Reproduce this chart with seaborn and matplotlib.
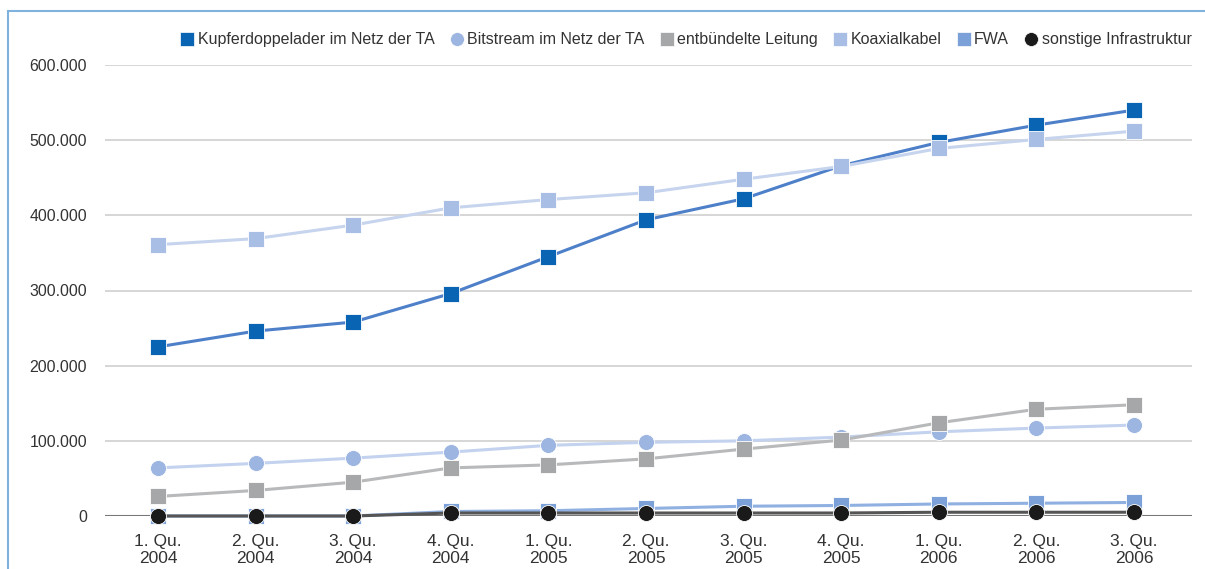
import pandas as pd
import matplotlib.pyplot as plt
import matplotlib.patches as patches
from matplotlib.lines import Line2D
import seaborn as sns

# Quartale
quarters = ["1. Qu.\n2004", "2. Qu.\n2004", "3. Qu.\n2004", "4. Qu.\n2004",
            "1. Qu.\n2005", "2. Qu.\n2005", "3. Qu.\n2005", "4. Qu.\n2005",
            "1. Qu.\n2006", "2. Qu.\n2006", "3. Qu.\n2006"]

kupfer = [225000, 246000, 258000, 296000, 345000, 394000, 422000, 466000, 497000, 520000, 540000]
bitstream = [64000, 70000, 77000, 85000, 94000, 98000, 100000, 105000, 112000, 117000, 121000]
entbuendelt = [26000, 34000, 45000, 64000, 68000, 76000, 89000, 101000, 124000, 142000, 148000]
koaxial = [361000, 369000, 387000, 410000, 421000, 430000, 448000, 465000, 489000, 501000, 512000]
fwa = [0, 0, 0, 6000, 7000, 10000, 13000, 14000, 16000, 17000, 18000]
sonstige = [0, 0, 0, 4000, 4000, 4000, 4000, 4000, 5000, 5000, 5000]

series = [
    ("Kupferdoppelader im Netz der TA", kupfer, "s", "#0a64b4", "#4d80c9"),
    ("Bitstream im Netz der TA", bitstream, "o", "#9db5e1", "#c3d2ee"),
    ("entbündelte Leitung", entbuendelt, "s", "#a6a7a9", "#b8b9bb"),
    ("Koaxialkabel", koaxial, "s", "#a9bee4", "#c6d4ee"),
    ("FWA", fwa, "s", "#7ba1d8", "#8fb0e0"),
    ("sonstige Infrastruktur", sonstige, "o", "#1a1a1a", "#555555"),
]

sns.set_theme(style="white")
plt.rcParams['font.family'] = ['Liberation Sans', 'DejaVu Sans']

fig = plt.figure(figsize=(12.05, 5.69), dpi=100)
ax = fig.add_axes([105 / 1205, 53 / 569, (1192 - 105) / 1205, (516 - 65) / 569])

x = list(range(len(quarters)))
handles = []
for name, vals, mk, mcol, lcol in series:
    sns.lineplot(x=x, y=vals, ax=ax, color=lcol, linewidth=2.2, marker=mk,
                 markersize=11 if mk == "s" else 11.5, markerfacecolor=mcol,
                 markeredgecolor="white", markeredgewidth=0.6,
                 clip_on=False, zorder=3)
    handles.append(Line2D([], [], linestyle="none", marker=mk, markersize=10,
                          markerfacecolor=mcol, markeredgecolor="white",
                          markeredgewidth=0.5, label=name))

ax.set_xlim(-0.543, 10.594)
ax.set_ylim(0, 600000)
ax.set_yticks(range(0, 600001, 100000))
ax.set_yticklabels([f"{v:,}".replace(",", ".") for v in range(0, 600001, 100000)])
ax.set_xticks(x)
ax.set_xticklabels(quarters)
for t in ax.get_xticklabels():
    t.set_linespacing(1.15)
ax.yaxis.grid(True, color="#d0d0d0", linewidth=1.2)
ax.axhline(0, color="#777777", linewidth=1.5, zorder=2)
for s in ax.spines.values():
    s.set_visible(False)
ax.tick_params(axis="both", length=0, colors="#333333")
ax.tick_params(axis="y", pad=13, labelsize=11.4)
ax.tick_params(axis="x", pad=13, labelsize=12.5)

fig.legend(handles=handles, loc="upper right", bbox_to_anchor=(1206 / 1205, 1 - 18 / 569),
           ncol=6, frameon=False, fontsize=11.5, handletextpad=0.15, columnspacing=0.9,
           handlelength=1.0, labelcolor="#333333")

# hellblauer Rahmen oben/links
fig.add_artist(patches.Rectangle((8 / 1205, -0.1), 1.2, 1 - 11 / 569 + 0.1,
                                 transform=fig.transFigure, fill=False,
                                 edgecolor="#7fb2dd", linewidth=1.5))

plt.savefig("out.png", dpi=100)
